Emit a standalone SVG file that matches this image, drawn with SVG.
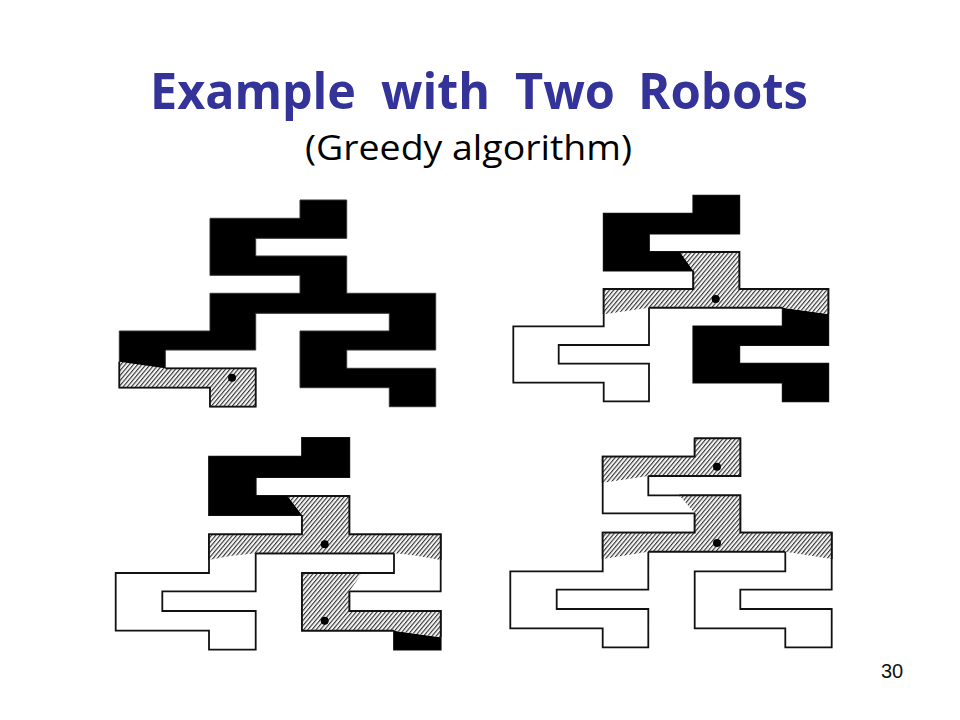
<svg xmlns="http://www.w3.org/2000/svg" width="960" height="720" viewBox="0 0 960 720">
<style>
.o{fill:#fff;stroke:#111;stroke-width:1.8;stroke-linejoin:miter}
.b{fill:#000}
.h{fill:url(#hatch)}
.e{fill:none;stroke:#111;stroke-width:1.8}
.d{fill:#000}
.t{font-family:"Open Sans","DejaVu Sans",sans-serif}
</style>
<defs>
<pattern id="hatch" width="3.2" height="3.2" patternUnits="userSpaceOnUse" patternTransform="rotate(40)">
<rect width="3.2" height="3.2" fill="#f4f4f4"/>
<rect x="0" width="1.1" height="3.2" fill="#333"/>
</pattern>
</defs>
<rect width="960" height="720" fill="#fff"/>
<text id="title" class="t" y="109" font-size="50" font-weight="700" fill="#333399"><tspan x="150" textLength="206" lengthAdjust="spacingAndGlyphs">Example</tspan> <tspan x="381" textLength="109" lengthAdjust="spacingAndGlyphs">with</tspan> <tspan x="515" textLength="100" lengthAdjust="spacingAndGlyphs">Two</tspan> <tspan x="638" textLength="170" lengthAdjust="spacingAndGlyphs">Robots</tspan></text>
<text id="subtitle" class="t" x="305" y="160" font-size="34" fill="#000" textLength="327" lengthAdjust="spacingAndGlyphs">(Greedy algorithm)</text>
<text id="page" x="881" y="678" font-family="Liberation Sans, Arial, sans-serif" font-size="20" fill="#111">30</text>

<g id="panel-1">
<path class="b" d="M300,200H346.7V238.3H255.7V256H346.7V293.3H435.7V350H346.7V368.3H435.7V406.7H389.3V387.7H300V331H389.3V313.3H255.7V350H165.3V368.3H255.7V406.7H210V387.7H119.3V331H210V293.3H300V275.3H210V218.3H300Z" stroke="#333" stroke-width="1"/>
<path class="h" d="M119.3,361.7L165.3,368.3H255.7V406.7H210V387.7H119.3Z"/>
<path class="e" d="M165.3,368.3H255.7V406.7H210V387.7H119.3V361.7"/>
<circle class="d" cx="232" cy="377.7" r="4"/>
</g>

<g id="panel-2">
<path class="o" d="M693.3,195.7H739.3V233.7H649V252H739.3V289H828.3V345H739.3V363.7H828.3V401.3H782.7V382.7H693.3V326.3H782.7V307.7H649V345H558.7V363.7H649V401.3H603.7V382.7H513.3V326.3H603.7V289H693.3V270.7H603.7V213.7H693.3Z"/>
<path class="b" d="M693.3,195.7H739.3V233.7H649V252H680L693.3,270.7H603.7V213.7H693.3Z"/>
<path class="b" d="M782.7,307.7L828.3,314V345H739.3V363.7H828.3V401.3H782.7V382.7H693.3V326.3H782.7Z"/>
<path class="h" d="M680,252H739.3V289H828.3V314L782.7,307.7H649L603.7,314.3V289H693.3V270.7Z"/>
<path class="e" d="M680,252H739.3V289H828.3V314M782.7,307.7H649M603.7,314.3V289H693.3V270.7"/>
<circle class="d" cx="715.7" cy="299" r="4"/>
</g>

<g id="panel-3">
<path class="o" d="M302,438H349.3V477H255.7V496H349.3V534.3H440.7V591.3H349.3V611H440.7V649.7H394V630.7H302V573H394V553.3H255.7V591.3H162.3V611H255.7V649.7H209V630.7H115.7V573H209V534.3H302V515H209V456.7H302Z"/>
<path class="b" d="M302,438H349.3V477H255.7V496H287.7L302,515H209V456.7H302Z"/>
<path class="b" d="M394,630.7L440.7,637.3V649.7H394Z"/>
<path class="h" d="M287.7,496H349.3V534.3H440.7V560Q415,555 394,553.3H255.7Q232,555 209,560V534.3H302V515Z"/>
<path class="h" d="M302,573H362.3L349.3,591.3V611H440.7V637.3L394,630.7H302Z"/>
<path class="e" d="M287.7,496H349.3V534.3H440.7V560M394,553.3H255.7M209,560V534.3H302V515M362.3,573H302V630.7H394M349.3,591.3V611H440.7V637.3"/>
<circle class="d" cx="324.7" cy="544.3" r="4"/>
<circle class="d" cx="324.7" cy="620.7" r="4"/>
</g>

<g id="panel-4">
<path class="o" d="M694.7,438.3H740.3V476H648.3V495.3H740.3V532.7H831.7V589.7H740.3V609H831.7V647.3H785.3V628.3H694.7V571.3H785.3V551.7H648.3V589.7H556.7V609H648.3V647.3H602.7V628.3H510.3V571.3H602.7V532.7H694.7V513.3H602.7V456.7H694.7Z"/>
<path class="h" d="M694.7,438.3H740.3V476H648.3L602.7,482.7V456.7H694.7Z"/>
<path class="h" d="M679.3,495.3H740.3V532.7H831.7V559L785.3,551.7H648.3L602.7,559V532.7H694.7V513.3Z"/>
<path class="e" d="M694.7,438.3H740.3V476H648.3M602.7,482.7V456.7H694.7V438.3M679.3,495.3H740.3V532.7H831.7V559M785.3,551.7H648.3M602.7,559V532.7H694.7V513.3"/>
<circle class="d" cx="717" cy="466.7" r="4"/>
<circle class="d" cx="717" cy="543" r="4"/>
</g>
</svg>
